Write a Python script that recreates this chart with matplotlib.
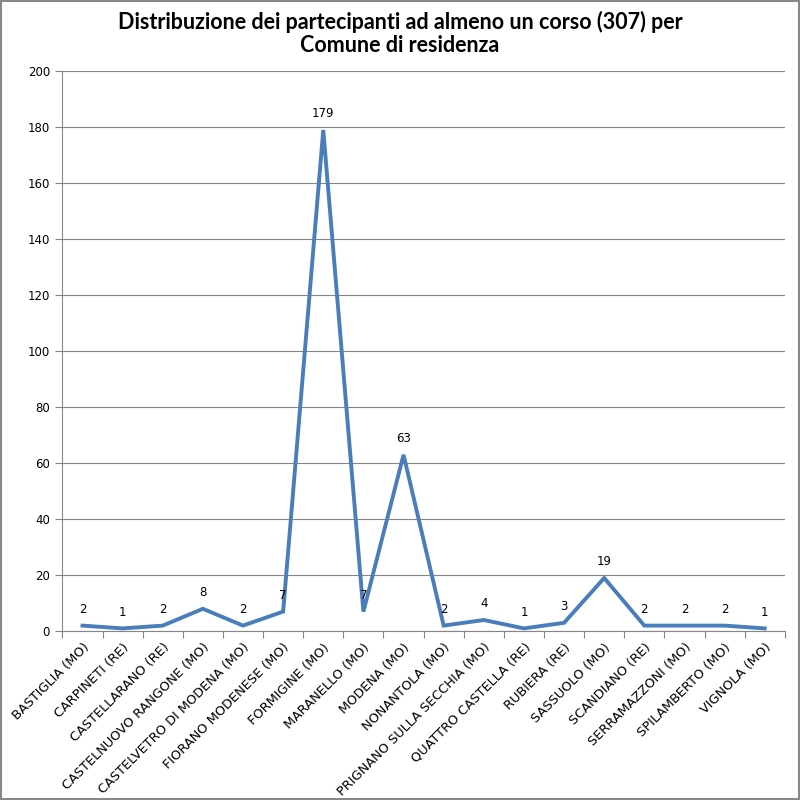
import matplotlib
matplotlib.use("Agg")
import matplotlib.pyplot as plt
from matplotlib.patches import Rectangle

categories = ["BASTIGLIA (MO)", "CARPINETI (RE)", "CASTELLARANO (RE)",
              "CASTELNUOVO RANGONE (MO)", "CASTELVETRO DI MODENA (MO)",
              "FIORANO MODENESE (MO)", "FORMIGINE (MO)", "MARANELLO (MO)",
              "MODENA (MO)", "NONANTOLA (MO)", "PRIGNANO SULLA SECCHIA (MO)",
              "QUATTRO CASTELLA (RE)", "RUBIERA (RE)", "SASSUOLO (MO)",
              "SCANDIANO (RE)", "SERRAMAZZONI (MO)", "SPILAMBERTO (MO)",
              "VIGNOLA (MO)"]
values = [2, 1, 2, 8, 2, 7, 179, 7, 63, 2, 4, 1, 3, 19, 2, 2, 2, 1]
yticks = [0, 20, 40, 60, 80, 100, 120, 140, 160, 180, 200]
title = "Distribuzione dei partecipanti ad almeno un corso (307) per\nComune di residenza"

plt.rcParams['font.family'] = ['DejaVu Sans']
fig = plt.figure(figsize=(8, 8), dpi=100)
fig.patches.append(Rectangle((0.001, 0.001), 0.998, 0.998, transform=fig.transFigure,
                             fill=False, edgecolor='#888888', linewidth=1.5))
ax = fig.add_axes([0.078, 0.211, 0.903, 0.700])

n = len(categories)
x = list(range(n))
ax.plot(x, values, color='#4A7EBB', linewidth=2.8, solid_joinstyle='miter')
for xi, v in zip(x, values):
    ax.annotate(str(v), (xi, v), xytext=(0, 7), textcoords='offset points',
                ha='center', va='bottom', fontsize=8.5, color='black')

ax.set_xlim(-0.5, n - 0.5)
ax.set_ylim(0, 200)
ax.set_yticks(yticks)
ax.yaxis.grid(True, color='#868686', linewidth=0.8)
ax.set_axisbelow(True)
ax.tick_params(axis='y', labelsize=8.5, length=5, color='#868686', pad=4)

ax.set_xticks([i - 0.5 for i in range(n + 1)])
ax.set_xticklabels([])
ax.tick_params(axis='x', length=5, color='#868686')
ax.set_xticks(x, minor=True)
ax.set_xticklabels(categories, minor=True, rotation=45, ha='right', va='top',
                   rotation_mode='anchor', fontsize=9.3)
ax.tick_params(axis='x', which='minor', length=0, pad=7)

for s in ['top', 'right']:
    ax.spines[s].set_visible(False)
for s in ['left', 'bottom']:
    ax.spines[s].set_color('#868686')

fig.text(0.5, 0.986, title, ha='center', va='top', fontsize=15.5,
         fontweight='bold', linespacing=1.12, family=['Lato', 'DejaVu Sans'])

fig.savefig("out.png", dpi=100)
